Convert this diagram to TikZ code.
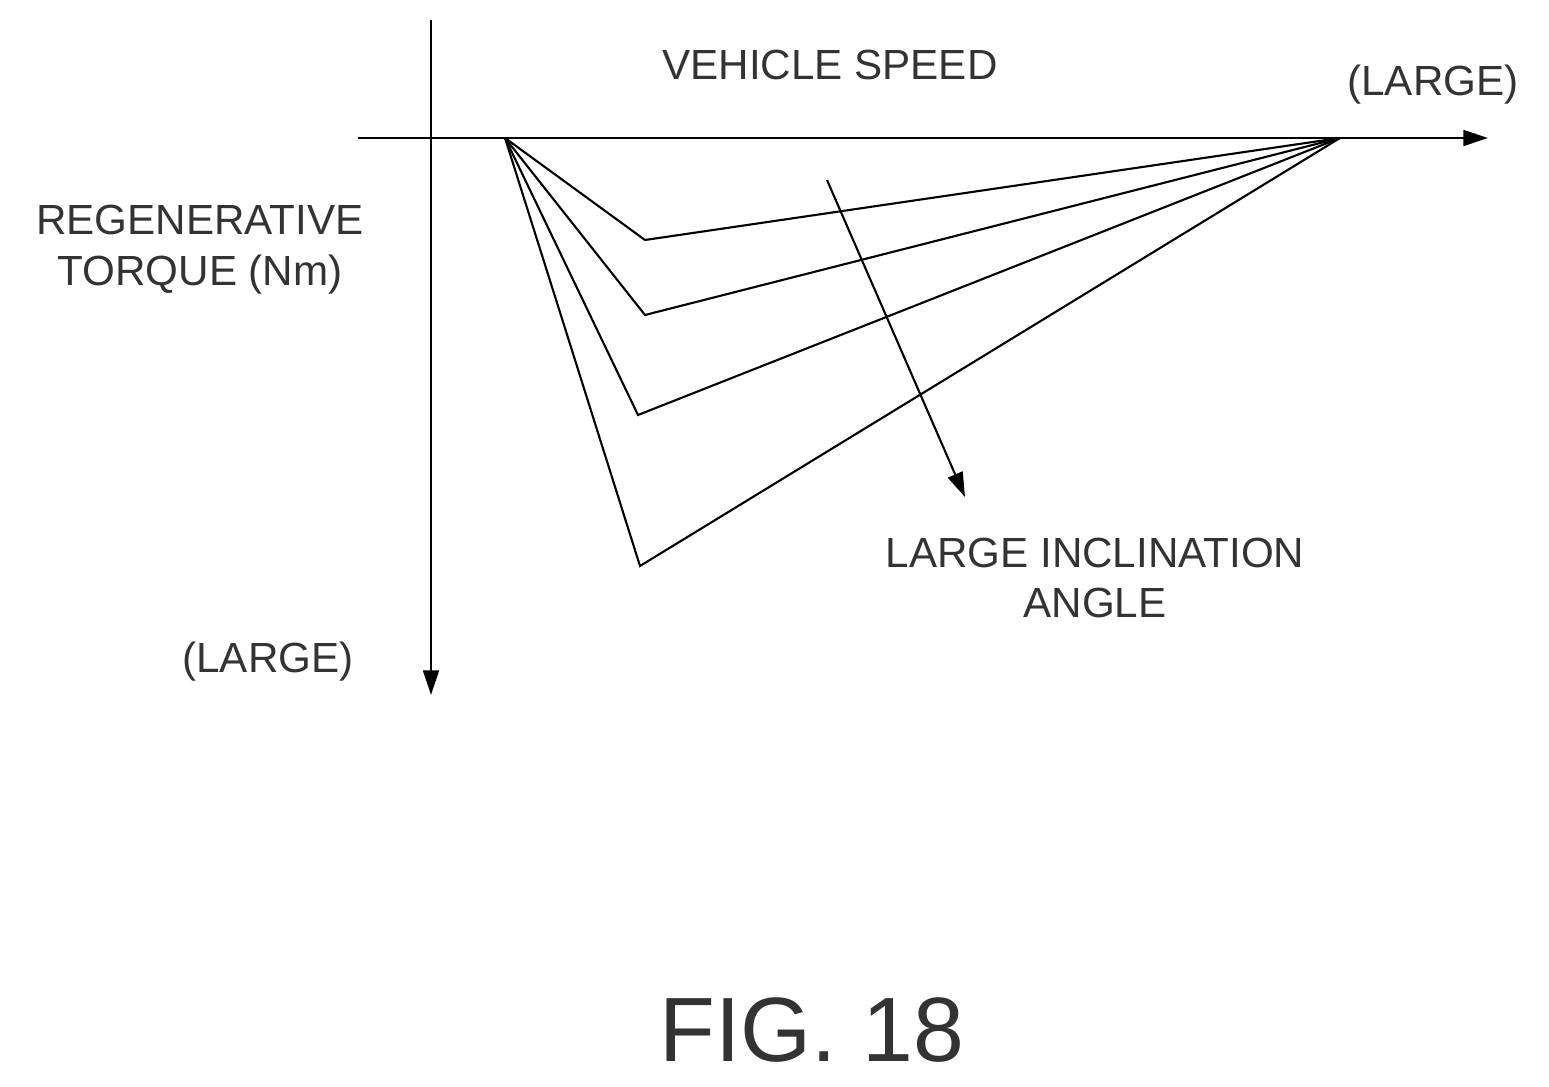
\documentclass[tikz,border=0pt]{standalone}
\usepackage{fontspec}
\setmainfont{Liberation Sans}
\usetikzlibrary{arrows.meta}
\begin{document}
\begin{tikzpicture}[x=0.02cm,y=-0.02cm,
  lbl/.style={font=\fontsize{24}{29}\selectfont, text=black!80, align=center, inner sep=0},
  ax/.style={line width=1.3pt, -{Triangle[length=14pt,width=9pt]}},
  crv/.style={line width=1.2pt}]
\useasboundingbox (0,0) rectangle (1549,1087);
\coordinate (ys) at (431,20); \coordinate (ye) at (431,695);
\coordinate (xs) at (358,138); \coordinate (xe) at (1488,138);
\coordinate (o) at (505,138); \coordinate (e) at (1340,138);
\coordinate (v1) at (645,240); \coordinate (v2) at (645,315);
\coordinate (v3) at (638,415); \coordinate (v4) at (640,566);
\coordinate (as) at (827,180); \coordinate (ae) at (965,497);
\draw[ax] (ys) -- (ye);
\draw[ax] (xs) -- (xe);
\foreach \v in {v1,v2,v3,v4} \draw[crv] (o) -- (\v) -- (e);
\draw[ax, line width=1.2pt] (as) -- (ae);
\node[lbl] (vs) at (830,65) {VEHICLE SPEED};
\node[lbl] (lx) at (1433,85) {(LARGE)};
\node[lbl] (rt) at (200,250) {REGENERATIVE\\TORQUE (Nm)};
\node[lbl] (ly) at (268,662) {(LARGE)};
\node[lbl] (li) at (1095,578) {LARGE INCLINATION\\ANGLE};
\node[lbl, font=\fontsize{52}{60}\selectfont] (fig) at (812,1030) {FIG. 18};
\end{tikzpicture}
\end{document}
